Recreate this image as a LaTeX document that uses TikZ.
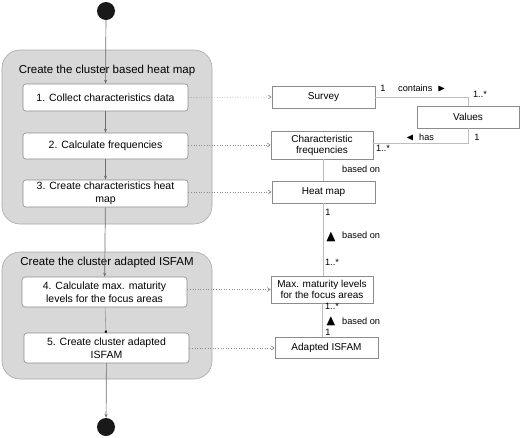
\documentclass[tikz,border=0pt]{standalone}
\usepackage{amssymb}
\usepackage{fontspec}
\setmainfont{Liberation Sans}
\usetikzlibrary{arrows.meta,positioning}
\definecolor{grpfill}{HTML}{D8D8D8}
\definecolor{grpdraw}{HTML}{A8A8A8}
\definecolor{boxdraw}{HTML}{8C8C8C}
\definecolor{linec}{HTML}{6E6E6E}
\definecolor{assoc}{HTML}{BDBDBD}
\tikzset{
  grp/.style={draw=grpdraw, fill=grpfill, rounded corners=18pt, line width=0.6pt},
  grptitle/.style={font=\fontsize{11.5}{13}\selectfont, inner sep=0pt},
  act/.style={draw=boxdraw, fill=white, rounded corners=3pt, line width=0.6pt, align=center, font=\fontsize{10.5}{12.5}\selectfont, inner sep=1pt},
  cls/.style={draw=boxdraw, fill=white, line width=0.6pt, align=center, font=\fontsize{10}{11}\selectfont, inner sep=1pt},
  dot/.style={circle, fill=black!90, minimum size=18pt, inner sep=0pt},
  flow/.style={draw=linec, line width=0.7pt, -{Stealth[length=4pt,width=3pt]}},
  trace/.style={draw=boxdraw, dotted, line width=0.6pt, -{Straight Barb[length=3pt,width=4pt]}},
  asc/.style={draw=assoc, line width=0.8pt},
  lbl/.style={font=\fontsize{9.2}{10}\selectfont, inner sep=0pt},
  tri/.style={inner sep=0pt, font=\fontsize{9.2}{10}\selectfont},
}
\begin{document}
\begin{tikzpicture}[x=1pt,y=-1pt]
\useasboundingbox (0,0) rectangle (520,437);
% groups
\path[grp] (2,50) rectangle (212,224);
\path[grp] (2,252) rectangle (212,379);
\node[grptitle] (t1) at (107,71) {Create the cluster based heat map};
\node[grptitle] (t2) at (107,263) {Create the cluster adapted ISFAM};
% start/end
\node[dot] (start) at (106,11) {};
\node[dot] (end) at (106,427) {};
% activities
\node[act, minimum width=165pt, minimum height=27pt] (a1) at (105.5,97.5) {1. Collect characteristics data};
\node[act, minimum width=165pt, minimum height=26pt] (a2) at (105.5,146) {2. Calculate frequencies};
\node[act, minimum width=165pt, minimum height=27pt] (a3) at (105.5,193.5) {3. Create characteristics heat\\map};
\node[act, minimum width=165pt, minimum height=30pt] (a4) at (104.5,292) {4. Calculate max. maturity\\levels for the focus areas};
\node[act, minimum width=165pt, minimum height=30pt] (a5) at (106.5,348) {5. Create cluster adapted\\ISFAM};
% flows
\draw[flow] (start) -- (a1);
\draw[flow] (a1) -- (a2);
\draw[flow] (a2) -- (a3);
\draw[flow] (a3) -- (a4);
\draw[draw=assoc!80!black, line width=0.6pt, -{Square[length=2pt,width=2pt,black]}] (a4) -- (a5);
\draw[flow] (a5) -- (end);
% classes
\node[cls, minimum width=103pt, minimum height=22pt] (survey) at (323.5,97) {Survey};
\node[cls, minimum width=102pt, minimum height=22pt] (values) at (468,117) {Values};
\node[cls, minimum width=102pt, minimum height=28pt] (freq) at (322,145) {Characteristic\\frequencies};
\node[cls, minimum width=103pt, minimum height=22pt] (heat) at (323.5,192) {Heat map};
\node[cls, minimum width=102pt, minimum height=27pt] (maxm) at (322,289.5) {Max. maturity levels\\for the focus areas};
\node[cls, minimum width=103pt, minimum height=21pt] (adapt) at (326.5,347.5) {Adapted ISFAM};
% traces
\draw[trace] (a1.east) -- (survey.west);
\draw[trace] (a2.east |- freq.west) -- (freq.west);
\draw[trace] (a3.east |- heat.west) -- (heat.west);
\draw[trace] (a4.east |- maxm.west) -- (maxm.west);
\draw[trace] (a5.east) -- (a5.east -| adapt.west);
% associations
\draw[asc] (survey.east) -| (values.north);
\draw[asc] (values.south) |- (freq.east |- 0,143) coordinate (fe);
\draw[asc] (freq.south -| 323,0) coordinate (fs) -- (fs |- heat.north);
\draw[asc] (heat.south -| 323,0) coordinate (hs) -- (hs |- maxm.north);
\draw[asc] (maxm.south -| 322,0) coordinate (ms) -- (ms |- adapt.north);
% labels
\node[lbl] (l1) at (383,88) {1};
\node[lbl, anchor=west] (l2) at (398,88) {contains \ \scalebox{1.1}{$\blacktriangleright$}};
\node[lbl] (l3) at (480,94) {1..*};
\node[lbl] (l4) at (477,137) {1};
\node[lbl, anchor=west] (l5) at (406,137) {\scalebox{1.1}{$\blacktriangleleft$} \ has};
\node[lbl] (l6) at (383,148) {1..*};
\node[lbl, anchor=west] (l7) at (342,169) {based on};
\node[lbl] (l8) at (328,212) {1};
\node[tri] (l9) at (331,237) {\scalebox{1.7}{$\blacktriangle$}};
\node[lbl, anchor=west] (l10) at (342,235) {based on};
\node[lbl] (l11) at (332,262) {1..*};
\node[lbl] (l12) at (332,306) {1..*};
\node[tri] (l13) at (331,321) {\scalebox{1.6}{$\blacktriangle$}};
\node[lbl, anchor=west] (l14) at (342,321) {based on};
\node[lbl] (l15) at (328,332) {1};
\end{tikzpicture}
\end{document}
